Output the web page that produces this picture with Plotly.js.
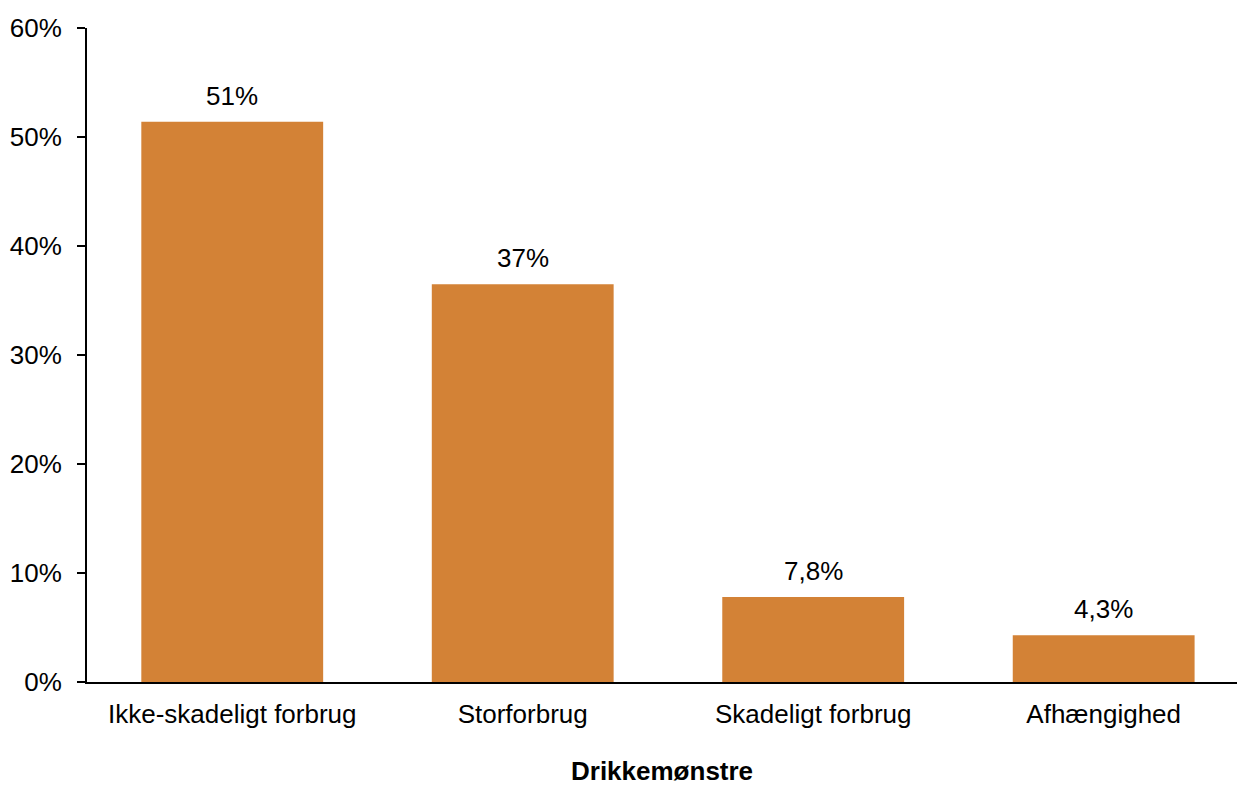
<!DOCTYPE html>
<html>
<head>
<meta charset="utf-8">
<script src="https://cdn.plot.ly/plotly-3.0.1.min.js"></script>
<style>html,body{margin:0;padding:0;background:#fff;}#chart{width:1237px;height:787px;}</style>
</head>
<body>
<div id="chart"></div>
<script>
const categories = ["Ikke-skadeligt forbrug", "Storforbrug", "Skadeligt forbrug", "Afhængighed"];
const values = [51.4, 36.5, 7.8, 4.3];
const valueLabels = ["51%", "37%", "7,8%", "4,3%"];
const yTickVals = [0, 10, 20, 30, 40, 50, 60];
const yTickText = ["0%", "10%", "20%", "30%", "40%", "50%", "60%"];
const xTitle = "Drikkemønstre";

const font = "Liberation Sans, Arial, sans-serif";
const fs = 26;

const trace = {
  type: "bar",
  x: categories,
  y: values,
  width: 0.626,
  marker: {color: "#D38236"},
  cliponaxis: false,
  hoverinfo: "skip"
};

const annotations = categories.map((c, i) => ({
  x: c, y: values[i], xref: "x", yref: "y",
  text: valueLabels[i], showarrow: false,
  yanchor: "bottom", yshift: 9,
  font: {family: font, size: fs, color: "#000"}
}));
annotations.push({
  x: 0.5, y: -0.1361, xref: "paper", yref: "paper",
  xanchor: "center", yanchor: "middle",
  text: "<b>" + xTitle + "</b>", showarrow: false, borderpad: 0,
  font: {family: font, size: fs, color: "#000"}
});

const layout = {
  width: 1237, height: 787,
  margin: {l: 87, r: 0, t: 28, b: 105},
  paper_bgcolor: "#fff", plot_bgcolor: "#fff",
  showlegend: false,
  font: {family: font, size: fs, color: "#000"},
  annotations: annotations,
  xaxis: {
    type: "category",
    range: [-0.5, 3.459],
    showline: true, linecolor: "#000", linewidth: 2,
    ticks: "", showgrid: false, zeroline: false,
    tickfont: {family: font, size: fs, color: "#000"},
    ticklabelstandoff: 8
  },
  yaxis: {
    range: [0, 60],
    tickvals: yTickVals, ticktext: yTickText,
    showline: true, linecolor: "#000", linewidth: 2,
    ticks: "outside", ticklen: 8, tickwidth: 2, tickcolor: "#000",
    showgrid: false, zeroline: false,
    tickfont: {family: font, size: fs, color: "#000"},
    ticklabelstandoff: 10
  }
};

Plotly.newPlot("chart", [trace], layout, {displayModeBar: false, staticPlot: true});
</script>
</body>
</html>
